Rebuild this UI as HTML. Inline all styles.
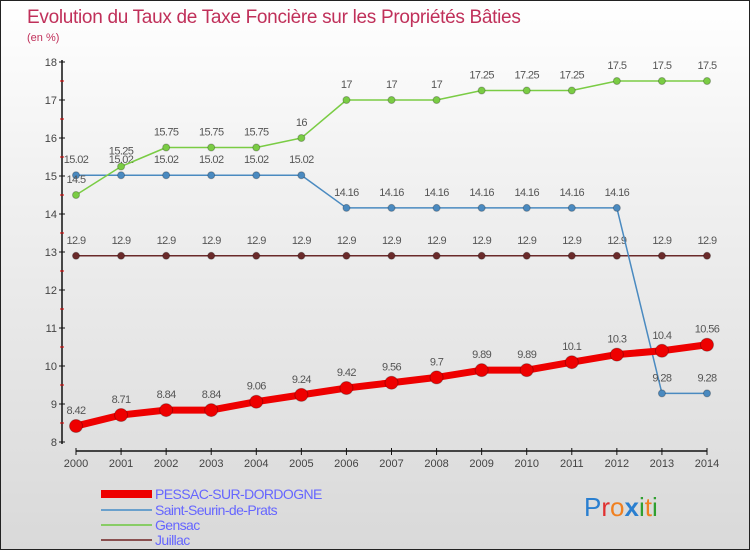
<!DOCTYPE html>
<html><head><meta charset="utf-8"><style>
body{margin:0}
#c{width:750px;height:550px;position:relative;overflow:hidden;box-sizing:border-box;border:1px solid #222;background:linear-gradient(#ffffff 0%,#f2f2f2 30%,#d9d9d9 100%);font-family:"Liberation Sans",sans-serif}
text{font-family:"Liberation Sans",sans-serif}
</style></head><body>
<div id="c">
<svg id="s" width="750" height="550">
<text x="26" y="22" font-size="19" fill="#c0305a" style="letter-spacing:-0.3px">Evolution du Taux de Taxe Foncière sur les Propriétés Bâties</text>
<text x="26" y="40" font-size="11" fill="#c0305a">(en %)</text>
<g id="axes"></g><g id="series"></g>
<g>
<rect x="100" y="489" width="51" height="8" fill="#ee0000"/>
<text x="154" y="498" font-size="14" fill="#6666ff" style="letter-spacing:-0.6px">PESSAC-SUR-DORDOGNE</text>
<rect x="100" y="508" width="51" height="2" fill="#6aa0cc"/>
<text x="154" y="514" font-size="14" fill="#6666ff" style="letter-spacing:-0.6px">Saint-Seurin-de-Prats</text>
<rect x="100" y="523" width="51" height="2" fill="#88cc66"/>
<text x="154" y="529" font-size="14" fill="#6666ff" style="letter-spacing:-0.6px">Gensac</text>
<rect x="100" y="538" width="51" height="2" fill="#8a5050"/>
<text x="154" y="544" font-size="14" fill="#6666ff" style="letter-spacing:-0.6px">Juillac</text>
</g>
<text x="583" y="515" font-size="26"><tspan fill="#2a7fd0">P</tspan><tspan fill="#e03030">r</tspan><tspan fill="#f08020">o</tspan><tspan fill="#2a7fd0" font-weight="bold">x</tspan><tspan fill="#30a030">i</tspan><tspan fill="#f08020">t</tspan><tspan fill="#30a030">i</tspan></text>
</svg></div>
<script>
const years=[2000,2001,2002,2003,2004,2005,2006,2007,2008,2009,2010,2011,2012,2013,2014];
const yTicks=[8,9,10,11,12,13,14,15,16,17,18];
const pessac=[8.42,8.71,8.84,8.84,9.06,9.24,9.42,9.56,9.7,9.89,9.89,10.1,10.3,10.4,10.56];
const saintSeurin=[15.02,15.02,15.02,15.02,15.02,15.02,14.16,14.16,14.16,14.16,14.16,14.16,14.16,9.28,9.28];
const gensac=[14.5,15.25,15.75,15.75,15.75,16,17,17,17,17.25,17.25,17.25,17.5,17.5,17.5];
const juillac=[12.9,12.9,12.9,12.9,12.9,12.9,12.9,12.9,12.9,12.9,12.9,12.9,12.9,12.9,12.9];
const NS="http://www.w3.org/2000/svg";
const X=i=>75+i*(706-75)/(years.length-1);
const Y=v=>441-(v-8)*38;
function mk(tag,attrs,parent){const e=document.createElementNS(NS,tag);for(const k in attrs)e.setAttribute(k,attrs[k]);parent.appendChild(e);return e;}
const ax=document.getElementById('axes');
const yl=mk('line',{x1:61,y1:59,x2:61,y2:443,stroke:'#111','stroke-width':1.5},ax);


yTicks.forEach(t=>{
 const l=mk('line',{x1:58,x2:64,y1:Y(t),y2:Y(t),stroke:'#111'},ax);
 
 
 const tx=mk('text',{x:56,y:Y(t)+4,'font-size':11,fill:'#444','text-anchor':'end'},ax);
 tx.textContent=t;
 
 
 if(t<18){const m=mk('line',{x1:59,x2:63,y1:Y(t+0.5),y2:Y(t+0.5),stroke:'#d00'},ax);
 
 }
});
const xl=mk('line',{x1:75,y1:450,x2:706,y2:450,stroke:'#111','stroke-width':1.5},ax);


years.forEach((y,i)=>{
 const l=mk('line',{x1:X(i),x2:X(i),y1:447,y2:454,stroke:'#111'},ax);
 
 
 const tx=mk('text',{x:X(i),y:466,'font-size':11,fill:'#444','text-anchor':'middle'},ax);
 tx.textContent=y;
 
 
});
const sg=document.getElementById('series');
function series(vals,color,w,r,name){
 const g=mk('g',{},sg);
 
 
 const p=mk('polyline',{points:vals.map((v,i)=>X(i)+','+Y(v)).join(' '),fill:'none',stroke:color,'stroke-width':w,'stroke-linejoin':'round'},g);
 
 
 vals.forEach((v,i)=>{
  const c=mk('circle',{cx:X(i),cy:Y(v),r:r,fill:color,stroke:'rgba(0,0,0,0.25)','stroke-width':1},g);
  
  
  const t=mk('text',{x:X(i),y:Y(v)-12,'font-size':11,fill:'#555','text-anchor':'middle','letter-spacing':'-0.6'},g);
  t.textContent=v;
  
  
 });
}
series(juillac,'#6a2a2a',1.5,3.5,'juillac');
series(saintSeurin,'#4a8ac0',1.5,3.5,'saint-seurin');
series(gensac,'#7acc44',1.5,3.5,'gensac');
series(pessac,'#ee0000',7,6.5,'pessac');
</script>
</body></html>
